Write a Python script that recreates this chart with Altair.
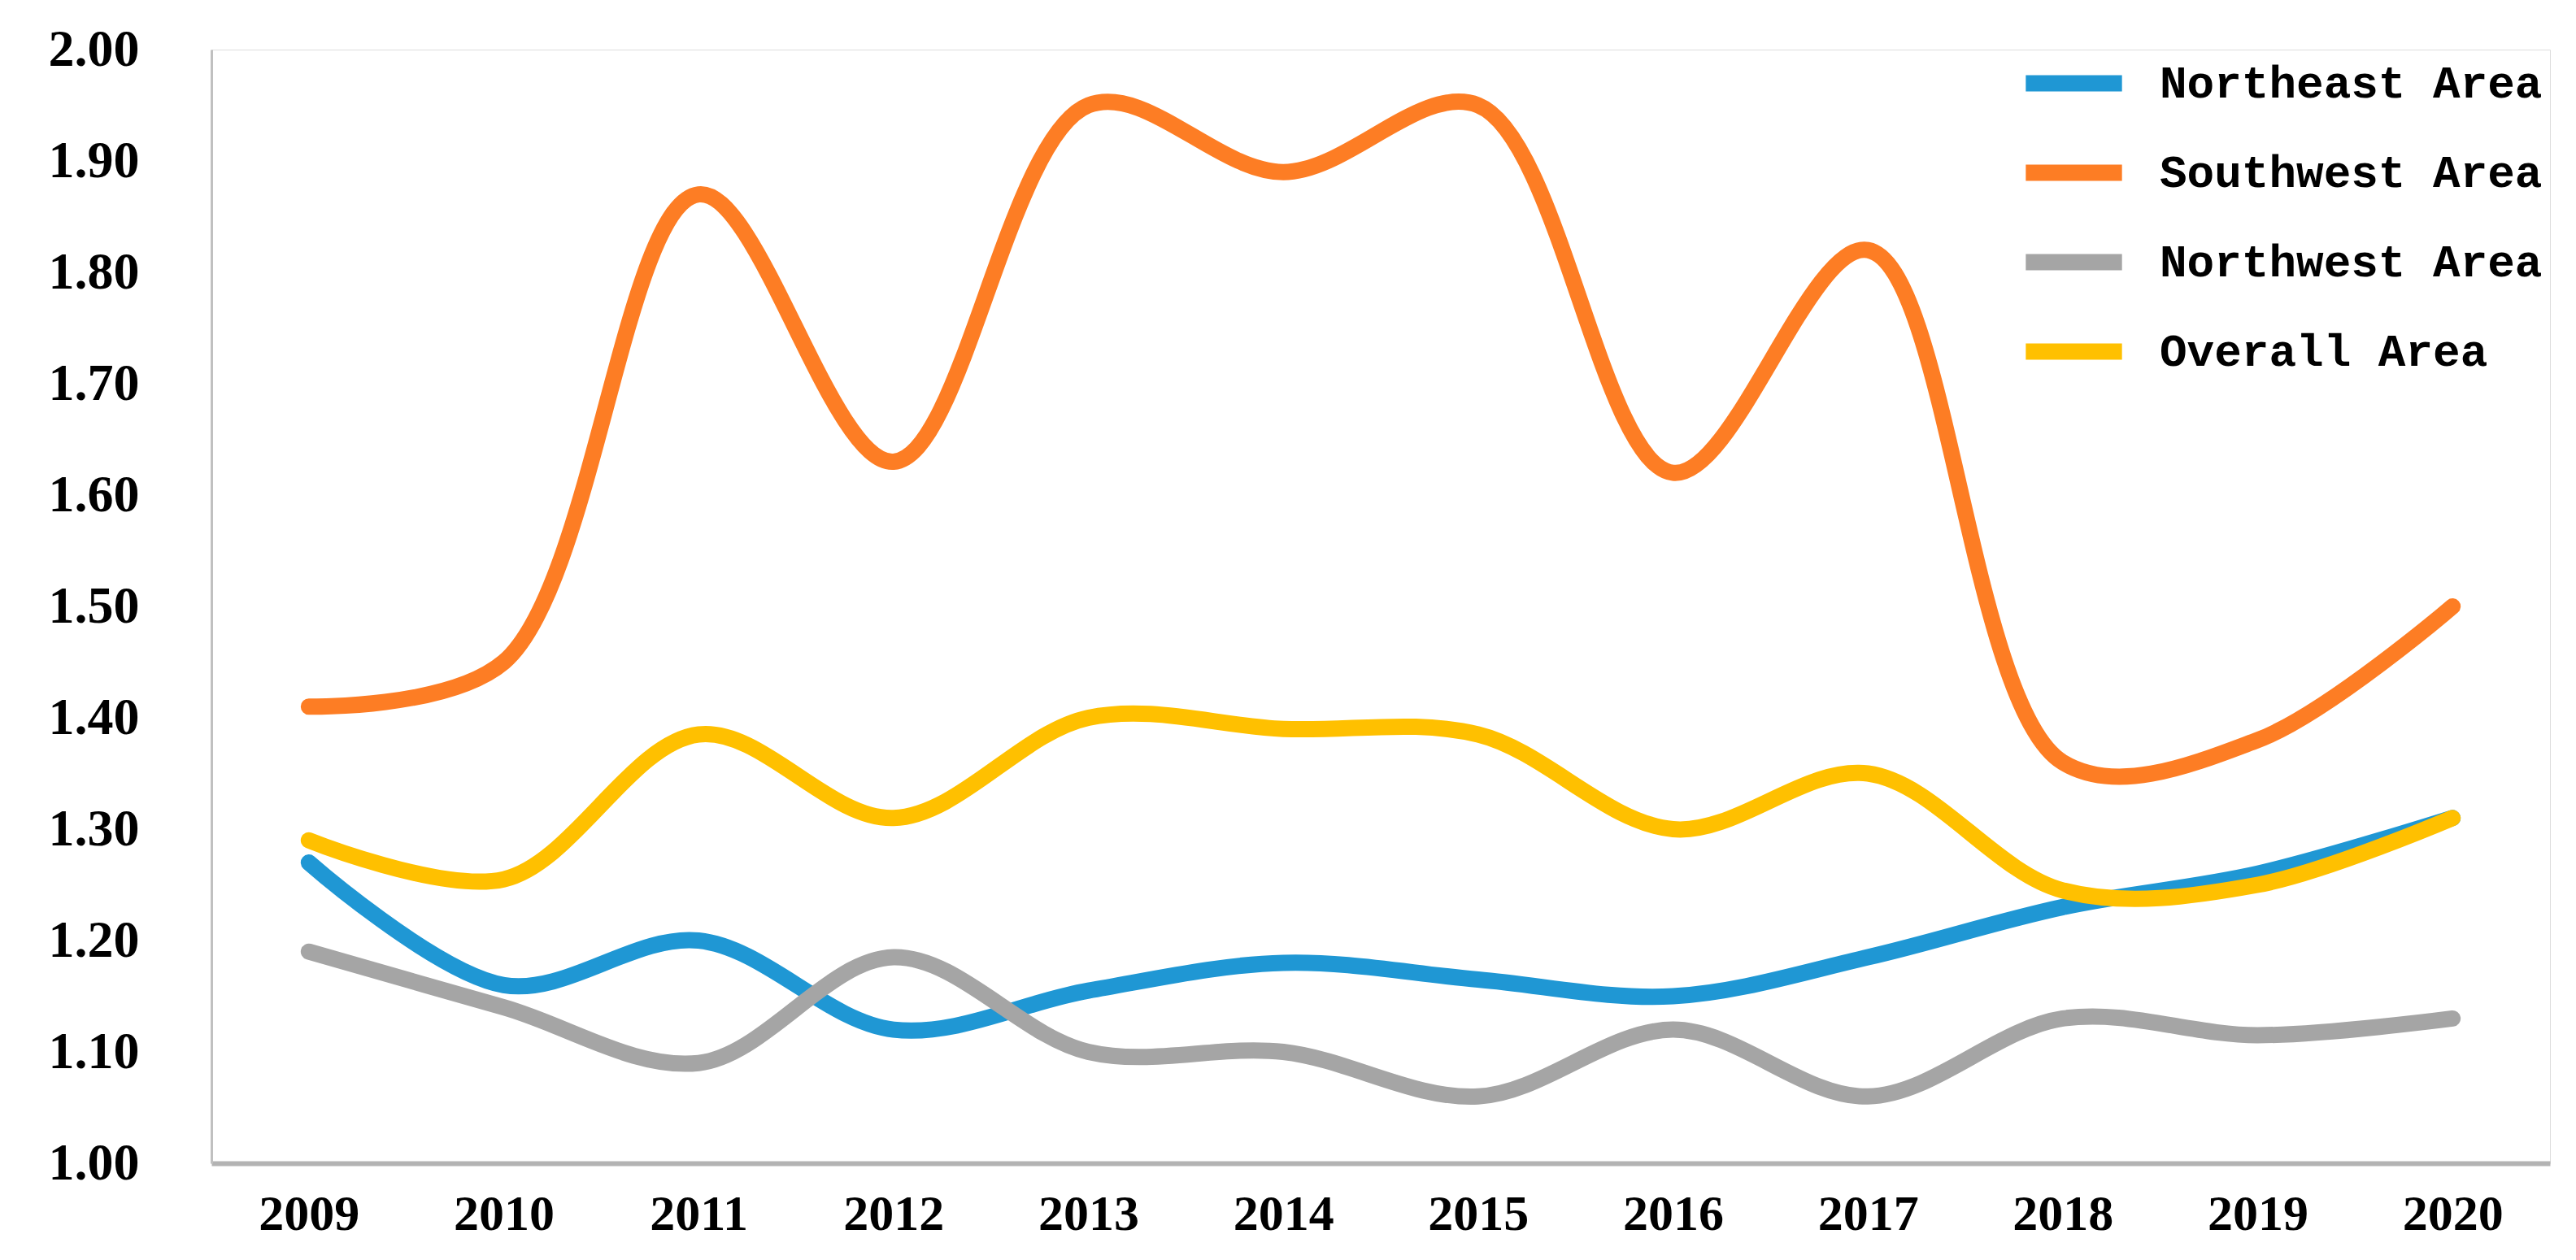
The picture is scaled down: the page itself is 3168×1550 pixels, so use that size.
import altair as alt
import pandas as pd

years = [str(y) for y in range(2009, 2021)]
series_names = ["Northeast Area", "Southwest Area", "Northwest Area", "Overall Area"]
northeast = [1.27, 1.16, 1.20, 1.12, 1.155, 1.18, 1.165, 1.15, 1.185, 1.23, 1.26, 1.31]
southwest = [1.41, 1.45, 1.87, 1.63, 1.95, 1.89, 1.95, 1.62, 1.82, 1.36, 1.38, 1.50]
northwest = [1.19, 1.14, 1.09, 1.185, 1.10, 1.10, 1.06, 1.12, 1.06, 1.13, 1.115, 1.13]
overall = [1.29, 1.255, 1.385, 1.31, 1.40, 1.39, 1.385, 1.30, 1.35, 1.245, 1.25, 1.31]
colors = ["#1f97d4", "#fd7d24", "#a5a5a5", "#ffc000"]

rows = []
for name, vals in zip(series_names, [northeast, southwest, northwest, overall]):
    for yr, v in zip(years, vals):
        rows.append({"year": yr, "value": v, "series": name, "order": series_names.index(name)})
df = pd.DataFrame(rows)

chart = alt.Chart(df).mark_line(
    interpolate="catmull-rom", strokeWidth=20, strokeCap="round", strokeJoin="round"
).encode(
    x=alt.X("year:O", sort=years, scale=alt.Scale(type="point", padding=0.5),
            axis=alt.Axis(title=None, labelAngle=0, ticks=False, labelPadding=32,
                          labelFont="Liberation Serif", labelFontWeight="bold",
                          labelFontSize=62, labelColor="#000000",
                          domainColor="#b3b3b3", domainWidth=6)),
    y=alt.Y("value:Q", scale=alt.Scale(domain=[1.0, 2.0], nice=False, zero=False),
            axis=alt.Axis(title=None, values=[1.0, 1.1, 1.2, 1.3, 1.4, 1.5, 1.6, 1.7, 1.8, 1.9, 2.0],
                          format=".2f", ticks=False, grid=False, labelPadding=89,
                          labelFont="Liberation Serif", labelFontWeight="bold",
                          labelFontSize=64, labelColor="#000000",
                          domainColor="#c0c0c0", domainWidth=3)),
    color=alt.Color("series:N", sort=series_names,
                    scale=alt.Scale(domain=series_names, range=colors),
                    legend=alt.Legend(title=None, orient="none", legendX=2221, legendY=-28,
                                      symbolType="stroke", symbolStrokeWidth=20,
                                      symbolSize=14000, labelFont="Liberation Mono",
                                      labelFontWeight="bold", labelFontSize=56,
                                      labelColor="#000000", labelOffset=36,
                                      labelLimit=0, rowPadding=0)),
    order=alt.Order("order:Q"),
    detail="series:N",
).properties(
    width=2876, height=1370,
    autosize=alt.AutoSizeParams(type="none"),
    padding={"left": 252, "top": 53, "right": 20, "bottom": 108},
).configure_view(stroke=None).configure(background="#ffffff")

chart.save("out.html", embed_options={"renderer": "svg", "actions": False})
